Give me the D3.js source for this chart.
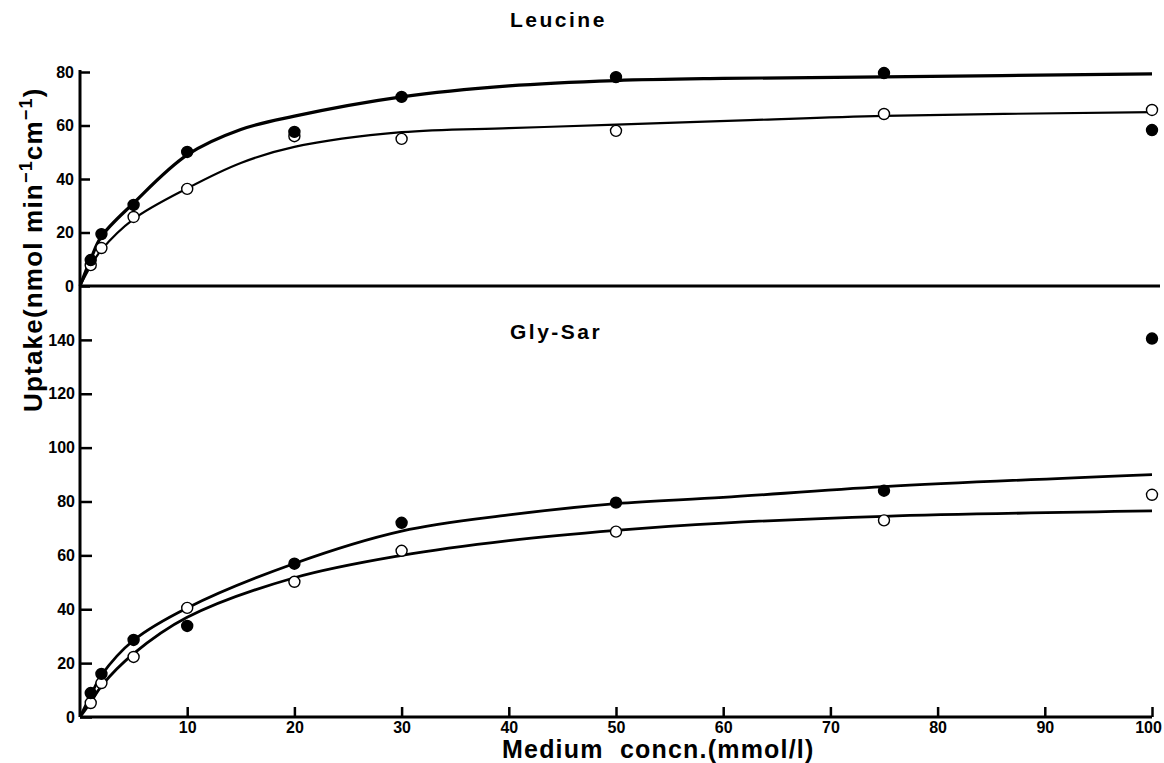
<!DOCTYPE html>
<html><head><meta charset="utf-8">
<script src="https://cdn.jsdelivr.net/npm/d3@7"></script>
<style>
body{margin:0;background:#fff;}
text{font-family:"Liberation Sans",Arial,sans-serif;font-weight:bold;fill:#000;}
</style></head>
<body><svg id="c" width="1164" height="763"></svg>
<script>
// ---- data ----
const xTicks = [10,20,30,40,50,60,70,80,90,100];
const topTicks = [0,20,40,60,80];
const botTicks = [0,20,40,60,80,100,120,140];

const concX = [1,2,5,10,20,30,50,75,100];
// Leucine
const leuClosed = [9.7,19.4,30.3,50.1,57.6,70.7,78.1,79.6,58.3];
const leuOpen   = [7.8,14.2,25.8,36.3,56.0,55.0,58.0,64.3,65.8];
const leuClosedFitX = [0,1,2,5,10,15,20,30,40,50,60,75,100];
const leuClosedFitY = [0,10,18.5,31,49,58.5,63.5,70.7,74.8,76.8,77.6,78.2,79.3];
const leuOpenFitX = [0,1,2,5,10,15,20,30,40,50,62.5,75,100];
const leuOpenFitY = [0,7.5,13.5,25,36.5,46,52,57.5,59,60.3,62,63.6,65];
// Gly-Sar
const glyClosed = [8.9,16.0,28.6,33.8,56.9,72.1,79.6,84.0,140.5];
const glyOpen   = [5.2,12.6,22.3,40.5,50.2,61.7,68.8,73.0,82.5];
const glyClosedFitX = [0,1,2,5,10,20,30,40,50,60,75,100];
const glyClosedFitY = [0,8,15.5,28.5,40.5,57,69,75,79.2,81.5,85.5,90];
const glyOpenFitX = [0,1,2,5,10,20,30,40,50,60,75,100];
const glyOpenFitY = [0,5.5,11.5,23.5,37,51.7,60,65.5,69.3,72,74.5,76.5];

// ---- layout ----
const svg = d3.select("#c");
const x = d3.scaleLinear().domain([0,100]).range([80,1152]);
const yTop = d3.scaleLinear().domain([0,80]).range([286,72]);
const yBot = d3.scaleLinear().domain([0,160]).range([717,286]);

// axes
const gx = svg.append("g").attr("transform","translate(0,717)")
  .call(d3.axisBottom(x).tickValues(xTicks).tickSizeInner(-10).tickSizeOuter(0).tickPadding(5));
gx.select(".domain").attr("stroke-width",3).attr("d","M80,0H1152");
gx.selectAll(".tick line").attr("stroke-width",2.5);
gx.selectAll(".tick text").attr("font-size",16).attr("font-family","Liberation Sans, Arial").attr("font-weight","bold")
  .attr("dx", d => d === 100 ? -4 : 0);

// top panel baseline
svg.append("line").attr("x1",x(0)).attr("x2",1160).attr("y1",yTop(0)).attr("y2",yTop(0))
  .attr("stroke","#000").attr("stroke-width",3);

const gyT = svg.append("g").attr("transform","translate(80,0)")
  .call(d3.axisLeft(yTop).tickValues(topTicks).tickSizeInner(-10).tickSizeOuter(0).tickPadding(6));
const gyB = svg.append("g").attr("transform","translate(80,0)")
  .call(d3.axisLeft(yBot).tickValues(botTicks).tickSizeInner(-12).tickSizeOuter(0).tickPadding(5));
[gyT,gyB].forEach(g=>{
  g.select(".domain").attr("stroke-width",3);
  g.selectAll(".tick line").attr("stroke-width",2.5);
  g.selectAll(".tick text").attr("font-size",16).attr("font-family","Liberation Sans, Arial").attr("font-weight","bold");
});
gyB.select(".domain").attr("d","M0,717V286");
gyT.select(".domain").attr("d","M0,286V70");

// curves
function fit(xs, ys, ys_scale, w){
  const pts = xs.map((v,i)=>[v, ys[i]]);
  svg.append("path").datum(pts)
    .attr("d", d3.line().x(d=>x(d[0])).y(d=>ys_scale(d[1])).curve(d3.curveCatmullRom.alpha(0.5)))
    .attr("fill","none").attr("stroke","#000").attr("stroke-width",w);
}
fit(leuClosedFitX, leuClosedFitY, yTop, 3.2);
fit(leuOpenFitX, leuOpenFitY, yTop, 2.2);
fit(glyClosedFitX, glyClosedFitY, yBot, 2.8);
fit(glyOpenFitX, glyOpenFitY, yBot, 2.8);

function pts(vals, ys, filled){
  svg.append("g").selectAll("circle").data(vals).join("circle")
    .attr("cx",(d,i)=>x(concX[i])).attr("cy",d=>ys(d)).attr("r",5.5)
    .attr("fill",filled?"#000":"#fff").attr("stroke","#000").attr("stroke-width",1.4);
}
pts(leuOpen, yTop, false);
pts(leuClosed, yTop, true);
pts(glyOpen, yBot, false);
pts(glyClosed, yBot, true);

// titles
svg.append("text").attr("x",510).attr("y",27).attr("font-size",21).attr("letter-spacing",2.5).text("Leucine");
svg.append("text").attr("x",510).attr("y",339).attr("font-size",21).attr("letter-spacing",2.5).text("Gly-Sar");

// x title
svg.append("text").attr("x",502).attr("y",758).attr("font-size",25).attr("letter-spacing",1.2)
  .attr("xml:space","preserve").text("Medium  concn.(mmol/l)");

// y title
const yt = svg.append("text").attr("transform","translate(42,412) rotate(-90)").attr("font-size",26).attr("letter-spacing",1.2);
yt.append("tspan").text("Uptake(nmol min");
yt.append("tspan").attr("font-size",18).attr("dy",-10).text("−1");
yt.append("tspan").attr("dy",10).text("cm");
yt.append("tspan").attr("font-size",18).attr("dy",-10).text("−1");
yt.append("tspan").attr("dy",10).text(")");
</script></body></html>
